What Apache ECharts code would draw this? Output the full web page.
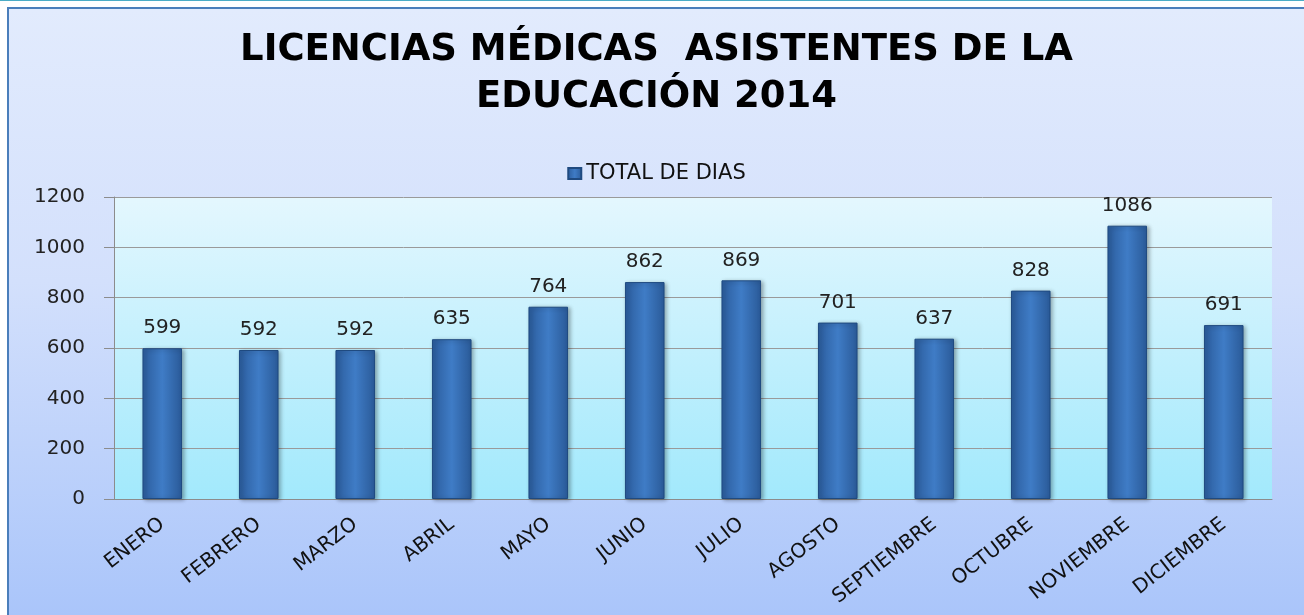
<!DOCTYPE html>
<html>
<head>
<meta charset="utf-8">
<script src="https://cdn.jsdelivr.net/npm/echarts@6/dist/echarts.min.js"></script>
<style>
  html, body { margin: 0; padding: 0; background: #ffffff; }
  #linea { position: absolute; left: 0; top: 0; width: 1304px; height: 1px; background: #4bacc6; }
  #grafico {
    position: absolute; left: 7px; top: 7px; width: 1297px; height: 608px;
    border-left: 2px solid #4a7ebb; border-top: 2px solid #4a7ebb;
    box-sizing: border-box;
    background: linear-gradient(to bottom, #e2ebfd 0%, #d3e0fc 45%, #aac5fa 100%);
  }
</style>
</head>
<body>
<div id="linea"></div>
<div id="grafico"></div>
<script>
// Datos del gráfico
var meses = ["ENERO", "FEBRERO", "MARZO", "ABRIL", "MAYO", "JUNIO", "JULIO",
  "AGOSTO", "SEPTIEMBRE", "OCTUBRE", "NOVIEMBRE", "DICIEMBRE"];
var totalDias = [599, 592, 592, 635, 764, 862, 869, 701, 637, 828, 1086, 691];
var ticksY = [0, 200, 400, 600, 800, 1000, 1200];

var chart = echarts.init(document.getElementById("grafico"));

var barraColor = {
  type: "linear", x: 0, y: 0, x2: 1, y2: 0,
  colorStops: [
    { offset: 0, color: "#2b5c9c" },
    { offset: 0.5, color: "#3f7cc6" },
    { offset: 1, color: "#2a5a98" },
  ],
};

var option = {
  title: {
    text: "LICENCIAS MÉDICAS  ASISTENTES DE LA\nEDUCACIÓN 2014",
    left: "center",
    top: 13,
    textStyle: {
      fontFamily: "DejaVu Sans",
      fontWeight: "bold",
      fontSize: 37,
      lineHeight: 47,
      color: "#000000",
    },
  },
  legend: {
    data: ["TOTAL DE DIAS"],
    top: 149,
    left: "center",
    itemWidth: 13,
    itemHeight: 11,
    itemGap: 8,
    icon: "rect",
    textStyle: { fontFamily: "DejaVu Sans", fontSize: 21, color: "#111" },
  },
  grid: {
    left: 105,
    right: 32,
    top: 188,
    bottom: 116,
    show: true,
    borderWidth: 0,
    backgroundColor: {
      type: "linear", x: 0, y: 0, x2: 0, y2: 1,
      colorStops: [
        { offset: 0, color: "#e4f7fe" },
        { offset: 1, color: "#a2e9fc" },
      ],
    },
  },
  xAxis: {
    type: "category",
    data: meses,
    axisLine: { lineStyle: { color: "#8c8c8c" } },
    axisTick: { show: false },
    axisLabel: {
      rotate: 38,
      interval: 0,
      margin: 23,
      fontFamily: "DejaVu Sans",
      fontSize: 20,
      color: "#111",
    },
  },
  yAxis: {
    type: "value",
    min: ticksY[0],
    max: ticksY[ticksY.length - 1],
    interval: 200,
    axisLine: { show: true, lineStyle: { color: "#8c8c8c" } },
    axisTick: { show: true, length: 10, lineStyle: { color: "#8c8c8c" } },
    splitLine: { lineStyle: { color: "#9a9a9a", width: 1 } },
    axisLabel: {
      margin: 29,
      formatter: function (v) { return String(v); },
      fontFamily: "DejaVu Sans",
      fontSize: 20,
      color: "#222",
    },
  },
  series: [
    {
      name: "TOTAL DE DIAS",
      type: "bar",
      data: totalDias,
      barWidth: "41%",
      itemStyle: {
        color: barraColor,
        borderColor: "#1f4a80",
        borderWidth: 1,
        shadowColor: "rgba(0,0,0,0.3)",
        shadowBlur: 4,
        shadowOffsetX: 2,
        shadowOffsetY: 1,
      },
      label: {
        show: true,
        position: "top",
        distance: 10,
        fontFamily: "DejaVu Sans",
        fontSize: 20,
        color: "#222",
      },
    },
  ],
};

chart.setOption(option);
</script>
</body>
</html>
